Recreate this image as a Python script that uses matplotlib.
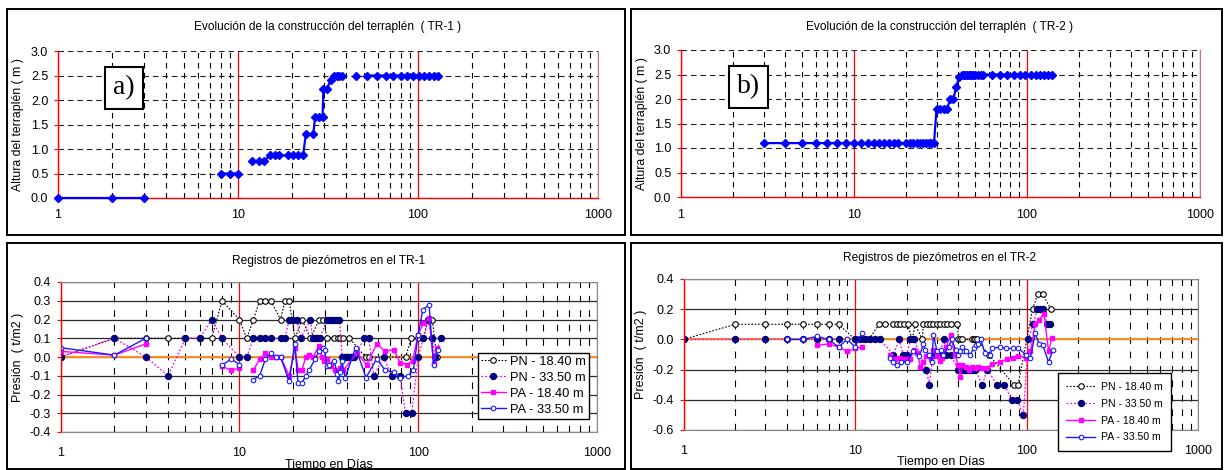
import numpy as np
import matplotlib
matplotlib.use("Agg")
import matplotlib.pyplot as plt
from matplotlib.patches import Rectangle
from matplotlib.ticker import LogLocator, FuncFormatter, NullFormatter, MultipleLocator, FormatStrFormatter

plt.rcParams["font.family"] = ["Liberation Sans", "DejaVu Sans"]

nan = np.nan

# ---- construction of the embankments (days, height in m), nan = break in the line
dias_tr1 = [1, 2, 3, nan, 8, 9, 10, nan, 12, 13, 14, 15, 16, 17, 19, 20.3, 21.6, 23,
            23.8, 26.2, 26.8, 28.3, 29.5, 29.8, 31.1, 32.7, 34.1, 35.3, 36.6, 38, nan,
            45, nan, 52, 59, 66, 73, 80, 87, 94, 101, 108, 115, 122, 129]
altura_tr1 = [0.0, 0.0, 0.0, nan, 0.5, 0.5, 0.5, nan, 0.75, 0.75, 0.75, 0.87, 0.87, 0.87,
              0.87, 0.87, 0.87, 0.87, 1.3, 1.3, 1.65, 1.65, 1.65, 2.22, 2.22, 2.4, 2.5,
              2.5, 2.5, 2.5, nan, 2.5, nan, 2.5, 2.5, 2.5, 2.5, 2.5, 2.5, 2.5, 2.5, 2.5,
              2.5, 2.5, 2.5]

dias_tr2 = [3, 4, 5, 6, 7, 8, 9, 10, 11, 12, 13, 14, 15, 16, 17, 18, 20, 21, 22, 23, 24,
            25, 26, 27, 28, 29, 30, 31.5, 33, 34.5, 36, 37.5, 39, 40.5, 42, 43, 44, 45, 46,
            47, 48, 49, 50, 52, 54, 56, 63, 70, 77, 84, 91, 98, 105, 112, 119, 126, 133, 140]
altura_tr2 = [1.1, 1.1, 1.1, 1.1, 1.1, 1.1, 1.1, 1.1, 1.1, 1.1, 1.1, 1.1, 1.1, 1.1, 1.1,
              1.1, 1.1, 1.1, 1.1, 1.1, 1.1, 1.1, 1.1, 1.1, 1.1, 1.1, 1.8, 1.8, 1.8, 1.8,
              2.0, 2.0, 2.25, 2.45, 2.5, 2.5, 2.5, 2.5, 2.5, 2.5, 2.5, 2.5, 2.5, 2.5, 2.5,
              2.5, 2.5, 2.5, 2.5, 2.5, 2.5, 2.5, 2.5, 2.5, 2.5, 2.5, 2.5, 2.5]

# ---- piezometers TR-1 (days, pressure t/m2)
pn18_tr1_d = [1, 2, 3, 4, 5, 6, 7, 8, 10, 11, 12, 13, 14, 15, 17, 18, 19, 20.5, 22.4, 25,
              28, 29.5, 31, 34, 35.4, 36.6, 38.2, 41.3, 50.8, 53.2, 85, 91.6, 100, 107,
              114, 120, 127]
pn18_tr1_v = [0.0, 0.1, 0.1, 0.1, 0.1, 0.1, 0.1, 0.3, 0.2, 0.1, 0.2, 0.3, 0.3, 0.3, 0.2,
              0.3, 0.3, 0.1, 0.2, 0.1, 0.2, 0.2, 0.1, 0.1, 0.1, 0.1, 0.1, 0.1, 0.0, 0.0,
              0.0, 0.1, 0.1, 0.1, 0.2, 0.2, 0.0]

pn33_tr1_d = [1, 2, 3, 4, 5, 6, 7, 8, 10, 11, 12, 13, 14, 15, 17, 18, 19, 20, 21, 22, 25,
              25.7, 26.5, 27.3, 28.1, 31, 32, 33, 34, 35, 36.3, 37.6, 38.5, 39.5, 40.5,
              41.5, 42.5, 43.8, 50, 53, 56.5, 64, 71, 79, 85, 92, 100, 107, 113, 120, 124,
              134]
pn33_tr1_v = [0.0, 0.1, 0.0, -0.1, 0.1, 0.1, 0.2, 0.1, 0.0, 0.0, 0.1, 0.1, 0.1, 0.1, 0.1,
              0.1, 0.2, 0.2, 0.2, 0.1, 0.2, 0.1, 0.1, 0.1, 0.1, 0.2, 0.2, 0.2, 0.2, 0.2,
              0.2, 0.0, 0.0, 0.0, 0.0, 0.0, 0.0, 0.0, 0.1, 0.1, -0.1, 0.0, -0.1, -0.1,
              -0.3, -0.3, 0.0, 0.1, 0.2, 0.1, 0.0, 0.1]

pa18_tr1_d = [1, 2, 3, nan, 8, 9, 10, nan, 12, 13, 14, 15, 16, 17, 19, 20.5, 21.3, 22.4,
              23.5, 24.5, 25.9, 27.9, 29, 29.8, 31.1, 32.5, 34.1, 35.4, 36.6, 38.2, 45.4,
              51.6, 58.7, 65.4, 72.8, 79.3, 86.3, 93, 100, 107, 115, 122, 127]
pa18_tr1_v = [0.03, 0.01, 0.07, nan, -0.05, -0.07, -0.06, nan, -0.07, -0.01, 0.02, 0.0,
              0.0, 0.0, -0.1, 0.05, -0.07, -0.07, 0.0, 0.01, 0.0, 0.06, 0.0, -0.02, -0.01,
              -0.05, -0.07, -0.08, -0.06, -0.07, 0.02, -0.04, 0.07, 0.03, 0.04, -0.03,
              -0.04, -0.02, 0.12, 0.18, 0.21, -0.03, 0.05]

pa33_tr1_d = [1, 2, 3, nan, 8, 9, 10, nan, 12, 13, 14, 15, 16, 17, 19, 20.4, 21.3, 22.4,
              23.5, 24.6, 26.5, 28, 29.5, 30, 30.9, 31.7, 33.9, 35.3, 35.8, 36.6, 37.4,
              39.1, 44.7, 51.1, 58.6, 65.4, 72.8, 79.3, 88, 94, 100, 106, 115, 122, 129]
pa33_tr1_v = [0.05, 0.01, 0.1, nan, -0.045, -0.01, -0.04, nan, -0.12, -0.1, -0.01, 0.02,
              0.0, 0.0, -0.13, 0.07, -0.14, -0.14, -0.1, -0.07, -0.01, 0.03, 0.05, 0.04,
              -0.05, -0.04, -0.02, -0.09, -0.13, -0.08, -0.02, -0.11, 0.05, -0.11, -0.01,
              -0.07, -0.08, -0.11, -0.1, -0.07, 0.12, 0.25, 0.28, -0.04, 0.04]

# ---- piezometers TR-2
pn18_tr2_d = [1, 2, 3, 4, 5, 6, 7, 8, 10, 11, 12, 13.8, 15, 16.7, 17.5, 18.3, 19.3, 20.2,
              21.5, 22.4, 24.6, 25, 26.1, 27.3, 28.6, 30, 31.4, 32.9, 34.5, 36.2, 39.4,
              40, 41, 42, 48, 49, 50, 51, 60, 84, 89, 108, 116, 124, 138]
pn18_tr2_v = [0.0, 0.1, 0.1, 0.1, 0.1, 0.1, 0.1, 0.1, 0.0, 0.0, 0.0, 0.1, 0.1, 0.1, 0.1,
              0.1, 0.1, 0.1, 0.0, 0.1, 0.0, 0.1, 0.1, 0.1, 0.1, 0.1, 0.1, 0.1, 0.1, 0.1,
              0.1, 0.0, 0.0, 0.0, 0.0, 0.0, 0.0, 0.0, -0.1, -0.3, -0.3, 0.2, 0.3, 0.3,
              0.2]

pn33_tr2_d = [1, 2, 3, 4, 5, 6, 7, 8, 10, 10.7, 11.4, 12.2, 13, 13.9, 16.7, 18.1, 19, 20,
              21, 22, 26, 27, 28.5, 31, 33, 34, 36, 40, 41.5, 43, 44.5, 46, 48, 50, 55,
              59, 67, 74, 81.7, 88, 95.5, 102, 109, 115, 120, 125, 131, 136]
pn33_tr2_v = [0.0, 0.0, 0.0, 0.0, 0.0, 0.0, 0.0, 0.0, 0.0, 0.0, 0.0, 0.0, 0.0, 0.0, -0.1,
              0.0, -0.1, -0.1, 0.0, 0.0, -0.2, -0.3, -0.1, -0.1, 0.0, -0.1, -0.1, -0.2,
              -0.2, -0.2, -0.2, -0.2, -0.2, -0.2, -0.3, -0.2, -0.3, -0.3, -0.4, -0.4,
              -0.5, 0.0, 0.1, 0.2, 0.2, 0.2, 0.1, 0.1]

pa18_tr2_d = [6, 7, 8, 9, 10, 11, nan, 16, 17, 18, 19, 20, 21, 22, 23, 24, 25, 26, 27.5,
              28.6, 30, 31.4, 32, 34, 36, 38, 40, 41, 42, 44, 46, 48, 50, 52, 55, 59, 63,
              70, 77, 83, 89, 99, 105, 112, 118, 126, 134, 140]
pa18_tr2_v = [-0.04, -0.03, -0.05, -0.08, -0.06, -0.05, nan, -0.1, -0.13, -0.12, -0.13,
              -0.13, -0.13, -0.07, -0.09, -0.18, -0.15, -0.11, -0.13, -0.07, -0.11, -0.14,
              -0.12, -0.05, 0.03, -0.1, -0.17, -0.25, -0.17, -0.18, -0.2, -0.18, -0.19,
              -0.18, -0.19, -0.19, -0.16, -0.15, -0.13, -0.12, -0.11, -0.12, -0.08, 0.1,
              0.13, 0.17, -0.08, 0.01]

pa33_tr2_d = [4, 5, 6, 7, 8, 9, 10, 11, nan, 16, 16.7, 17.6, 18.5, 20, 21.8, 23.7, 25,
              25.5, 27, 28, 28.6, 30, 31.5, 32.7, 35, 36.6, 38.5, 40, 41, 42, 43, 44, 47,
              49, 50.5, 52, 54, 57, 61, 63, 70, 76, 83, 89, 99, 105, 112, 118, 124, 134,
              142]
pa33_tr2_v = [0.0, 0.0, 0.02, 0.0, -0.05, 0.0, -0.05, 0.04, nan, -0.12, -0.15, -0.17,
              -0.15, -0.15, -0.08, -0.11, -0.03, -0.07, -0.1, -0.15, 0.03, -0.08, -0.07,
              -0.1, -0.05, 0.0, -0.07, -0.1, -0.08, -0.05, -0.08, -0.08, -0.1, -0.06,
              -0.04, -0.03, 0.0, -0.09, -0.1, -0.06, -0.05, -0.06, -0.06, -0.06, -0.1,
              -0.12, 0.04, -0.03, -0.04, -0.15, -0.07]

etiquetas = ["PN - 18.40 m", "PN - 33.50 m", "PA - 18.40 m", "PA - 33.50 m"]

W, H = 1225, 470
MAGENTA = "#ff00ff"
NAVY = "#000080"
BLUE = "#1a1aff"


def fig_rect(x0, y0, x1, y1):
    return [x0 / W, 1 - y1 / H, (x1 - x0) / W, (y1 - y0) / H]


def frame(fig, x0, y0, x1, y1):
    fig.add_artist(Rectangle((x0 / W, 1 - y1 / H), (x1 - x0) / W, (y1 - y0) / H,
                             transform=fig.transFigure, fill=False, ec="black", lw=1.4))


def log_x(ax, minor_ls, pad):
    ax.set_xscale("log")
    ax.set_xlim(1, 1000)
    ax.xaxis.set_major_locator(LogLocator(base=10, numticks=5))
    ax.xaxis.set_minor_locator(LogLocator(base=10, subs=np.arange(2, 10), numticks=10))
    ax.xaxis.set_major_formatter(FuncFormatter(lambda v, p: f"{v:g}"))
    ax.xaxis.set_minor_formatter(NullFormatter())
    ax.tick_params(axis="x", which="both", length=0, pad=pad, labelsize=9)
    ax.grid(True, which="major", axis="x", color="red", lw=0.9, ls="-")
    ax.grid(True, which="minor", axis="x", color="black", lw=0.8, ls=minor_ls)
    ax.set_axisbelow(True)


def construction(ax, dias, altura, etiqueta, box_x, pad):
    log_x(ax, (0, (5, 4)), pad)
    ax.set_ylim(0, 3)
    ax.yaxis.set_major_locator(MultipleLocator(0.5))
    ax.yaxis.set_major_formatter(FormatStrFormatter("%.1f"))
    ax.tick_params(axis="y", length=3, color="red", pad=4, labelsize=9)
    ax.grid(True, which="major", axis="y", color="#222222", lw=0.8, ls=(0, (5, 3.5)))
    for s in ("left", "bottom"):
        ax.spines[s].set_color("red")
        ax.spines[s].set_linewidth(1.0)
    ax.spines["top"].set_visible(False)
    ax.spines["right"].set_color("#c87878")
    ax.plot(dias, altura, color="blue", lw=1.6, marker="D", ms=4.3, mfc="blue", mec="blue",
            clip_on=False, zorder=3)
    ax.text(box_x, 0.75, etiqueta, transform=ax.transAxes, ha="center", va="center",
            fontsize=20, family=["Liberation Serif", "DejaVu Serif"], zorder=5,
            bbox=dict(boxstyle="square,pad=0.3", fc="white", ec="black", lw=1.5))


def piezometros(ax, series, ymin, ymax, step, pad):
    log_x(ax, (0, (6, 7)), pad)
    ax.set_ylim(ymin, ymax)
    ax.yaxis.set_major_locator(MultipleLocator(step))
    ax.yaxis.set_major_formatter(FormatStrFormatter("%.1f"))
    ax.tick_params(axis="y", length=3, color="red", pad=4, labelsize=9)
    ax.grid(True, which="major", axis="y", color="#2a2a2a", lw=0.9, ls="-")
    ax.spines["left"].set_color("red")
    ax.spines["left"].set_linewidth(1.0)
    for s in ("top", "bottom", "right"):
        ax.spines[s].set_color("#888888")
    ax.axhline(0, color="#ff8c1a", lw=1.4, zorder=1.5)
    (d1, v1), (d2, v2), (d3, v3), (d4, v4) = series
    ax.plot(d1, v1, color="black", lw=0.8, ls=(0, (1.5, 1.5)), marker="o", ms=4,
            mfc="white", mec="black", mew=0.8, label=etiquetas[0])
    ax.plot(d2, v2, color=MAGENTA, lw=0.9, ls=(0, (1.5, 1.5)), marker="o", ms=4.3,
            mfc=NAVY, mec=NAVY, label=etiquetas[1])
    ax.plot(d3, v3, color=MAGENTA, lw=1.0, ls="-", marker="s", ms=3, mfc=MAGENTA,
            mec=MAGENTA, label=etiquetas[2])
    ax.plot(d4, v4, color=BLUE, lw=1.0, ls="-", marker="o", ms=3.3, mfc="white",
            mec=BLUE, mew=0.8, label=etiquetas[3])


fig = plt.figure(figsize=(12.25, 4.70), dpi=100)

frame(fig, 7, 9, 625, 235)
frame(fig, 631, 9, 1222, 235)
frame(fig, 7, 243, 625, 469)
frame(fig, 631, 243, 1222, 469)

ax_c1 = fig.add_axes(fig_rect(58, 51, 598, 198))
ax_c2 = fig.add_axes(fig_rect(681, 50, 1200, 197))
ax_p1 = fig.add_axes(fig_rect(60.5, 282, 597, 432))
ax_p2 = fig.add_axes(fig_rect(683.5, 279, 1198.4, 430))

construction(ax_c1, dias_tr1, altura_tr1, "a)", 0.122, 8)
construction(ax_c2, dias_tr2, altura_tr2, "b)", 0.13, 9)
for ax in (ax_c1, ax_c2):
    ax.set_ylabel("Altura del terraplén ( m )", fontsize=8.8)
ax_c1.yaxis.set_label_coords(-0.063, 0.5)
ax_c2.yaxis.set_label_coords(-0.064, 0.5)

piezometros(ax_p1, [(pn18_tr1_d, pn18_tr1_v), (pn33_tr1_d, pn33_tr1_v),
                    (pa18_tr1_d, pa18_tr1_v), (pa33_tr1_d, pa33_tr1_v)], -0.4, 0.4, 0.1, 11)
piezometros(ax_p2, [(pn18_tr2_d, pn18_tr2_v), (pn33_tr2_d, pn33_tr2_v),
                    (pa18_tr2_d, pa18_tr2_v), (pa33_tr2_d, pa33_tr2_v)], -0.6, 0.4, 0.2, 10.5)
for ax in (ax_p1, ax_p2):
    ax.set_ylabel("Presión  ( t/m2 )", fontsize=9)
    ax.set_xlabel("Tiempo en Días", fontsize=9)
ax_p1.yaxis.set_label_coords(-0.068, 0.5)
ax_p2.yaxis.set_label_coords(-0.07, 0.5)
ax_p1.xaxis.set_label_coords(0.5, -0.177)
ax_p2.xaxis.set_label_coords(0.5, -0.173)

leg1 = ax_p1.legend(loc="upper left", bbox_to_anchor=(0.778, 0.529), fontsize=9.3,
                    handlelength=1.9, handletextpad=0.3, borderpad=0.25, labelspacing=0.3,
                    borderaxespad=0, fancybox=False, framealpha=1, edgecolor="black")
leg2 = ax_p2.legend(loc="upper left", bbox_to_anchor=(0.727, 0.375), fontsize=7.6,
                    handlelength=2.7, handletextpad=0.6, borderpad=0.8, labelspacing=0.65,
                    borderaxespad=0, fancybox=False, framealpha=1, edgecolor="black")
for leg in (leg1, leg2):
    leg.get_frame().set_linewidth(1.0)
    leg.set_zorder(10)

fig.text(328 / W, 1 - 27 / H, "Evolución de la construcción del terraplén  ( TR-1 )",
         ha="center", va="center", fontsize=8.6)
fig.text(940 / W, 1 - 27 / H, "Evolución de la construcción del terraplén  ( TR-2 )",
         ha="center", va="center", fontsize=8.6)
fig.text(329 / W, 1 - 261 / H, "Registros de piezómetros en el TR-1",
         ha="center", va="center", fontsize=8.6)
fig.text(940 / W, 1 - 258 / H, "Registros de piezómetros en el TR-2",
         ha="center", va="center", fontsize=8.6)

fig.savefig("out.png", dpi=100)
